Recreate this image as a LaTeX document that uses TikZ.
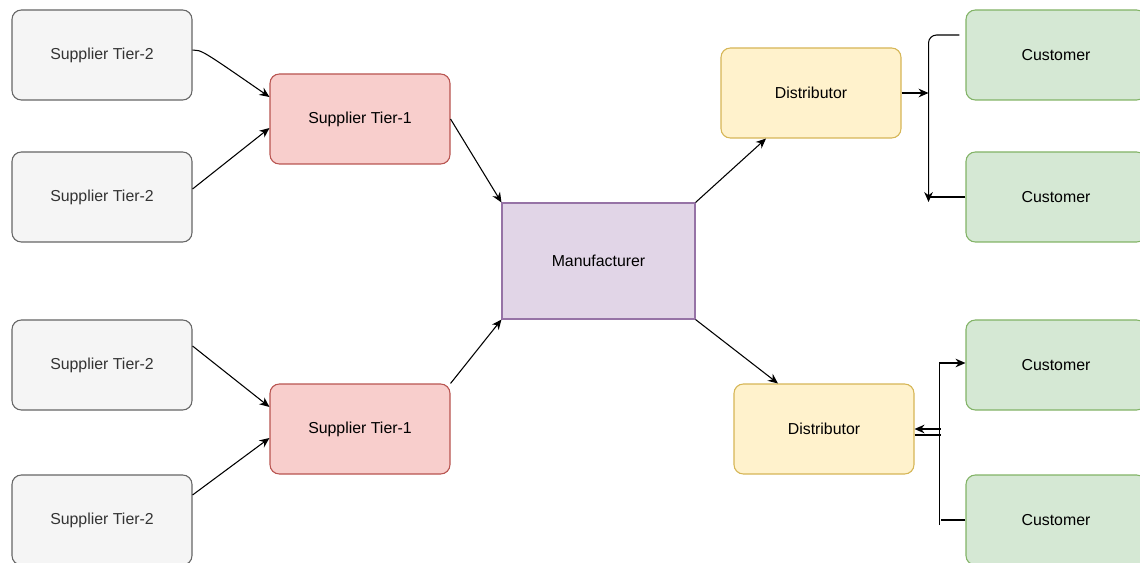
\documentclass[tikz,border=0pt]{standalone}
\usepackage{fontspec}
\setmainfont{Liberation Sans}
\usetikzlibrary{arrows.meta,calc}
\definecolor{grayfill}{HTML}{F5F5F5}
\definecolor{graydraw}{HTML}{666666}
\definecolor{graytext}{HTML}{333333}
\definecolor{redfill}{HTML}{F8CECC}
\definecolor{reddraw}{HTML}{B85450}
\definecolor{purplefill}{HTML}{E1D5E7}
\definecolor{purpledraw}{HTML}{9673A6}
\definecolor{yellowfill}{HTML}{FFF2CC}
\definecolor{yellowdraw}{HTML}{D6B656}
\definecolor{greenfill}{HTML}{D5E8D4}
\definecolor{greendraw}{HTML}{82B366}
\begin{document}
\begin{tikzpicture}[x=0.75pt,y=-0.75pt,
  box/.style={draw, line width=0.8pt, rounded corners=7pt, minimum width=135pt, minimum height=67.5pt,
    inner sep=0pt, font=\fontsize{11.9}{14}\selectfont, text=black},
  tiertwo/.style={box, fill=grayfill, draw=graydraw, text=graytext},
  tierone/.style={box, fill=redfill, draw=reddraw},
  maker/.style={box, rounded corners=0pt, fill=purplefill, draw=purpledraw, minimum width=144.75pt, minimum height=87pt},
  dist/.style={box, fill=yellowfill, draw=yellowdraw},
  cust/.style={box, fill=greenfill, draw=greendraw},
  link/.style={draw, line width=0.8pt, -{Stealth[length=7.5pt,width=6.5pt]}},
  plain/.style={draw, line width=0.8pt}]
\useasboundingbox (0,0) rectangle (1140,563);

% suppliers
\node[tiertwo] (s2a) at (102,55)  {Supplier Tier-2};
\node[tiertwo] (s2b) at (102,197) {Supplier Tier-2};
\node[tiertwo] (s2c) at (102,365) {Supplier Tier-2};
\node[tiertwo] (s2d) at (102,520) {Supplier Tier-2};
\node[tierone] (t1a) at (360,119) {Supplier Tier-1};
\node[tierone] (t1b) at (360,429) {Supplier Tier-1};

% manufacturer and distribution
\node[maker] (mfr) at (598.5,261) {Manufacturer};
\node[dist] (d1) at (811,93)  {Distributor};
\node[dist] (d2) at (824,429) {Distributor};

% customers
\node[cust] (c1) at (1056,55)  {Customer};
\node[cust] (c2) at (1056,197) {Customer};
\node[cust] (c3) at (1056,365) {Customer};
\node[cust] (c4) at (1056,520) {Customer};

% supply links
\draw[link] ($(s2a.east)+(0,-5)$) .. controls ($(s2a.east)+(9,-5)$) .. ($(t1a.west)+(0,-22)$);
\draw[link] ($(s2b.east)+(0,-8)$) -- ($(t1a.west)+(0,9)$);
\draw[link] ($(s2c.east)+(0,-19)$) -- ($(t1b.west)+(0,-22)$);
\draw[link] ($(s2d.east)+(0,-25)$) -- ($(t1b.west)+(0,9)$);
\draw[link] (t1a.east) -- (mfr.north west);
\draw[link] (t1b.north east) -- (mfr.south west);
\draw[link] (mfr.north east) -- ($(d1.south)+(-45,0)$);
\draw[link] (mfr.south east) -- ($(d2.north)+(-46,0)$);

% upper customer branch
\coordinate (j1) at ($(d1.east)+(27,0)$);
\coordinate (top1) at ($(c1.west)+(-6,-20)$);
\coordinate (bot1) at ($(j1)+(0,109)$);
\draw[link] (d1.east) -- (j1);
\draw[link, rounded corners=6pt] (top1) -- (top1 -| j1) -- (bot1);
\draw[plain] (c2.west) -- (c2.west -| j1);

% lower customer branch
\coordinate (j2) at ($(d2.east)+(26,0)$);
\coordinate (top2) at ($(c3.west)+(-26,-2)$);
\coordinate (bot2) at ($(c4.west)+(-26,5)$);
\draw[link] (bot2) -- (top2) -- ($(c3.west)+(0,-2)$);
\draw[plain] (c4.west) -- (c4.west -| j2);
\draw[link] (j2) -- (d2.east);
\draw[plain] ($(d2.east)+(0,6)$) -- ($(j2)+(0,6)$);
\end{tikzpicture}
\end{document}
